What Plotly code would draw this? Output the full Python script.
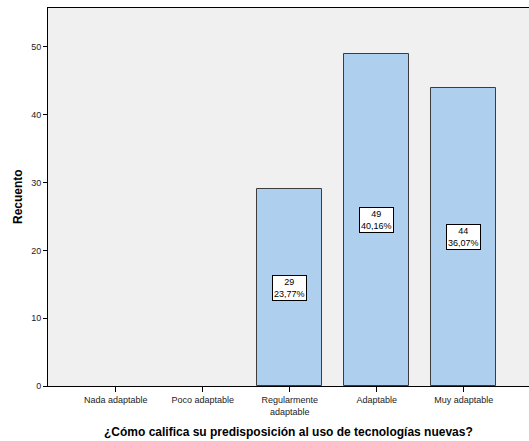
import plotly.graph_objects as go

categories = ["Nada adaptable", "Poco adaptable", "Regularmente<br>adaptable", "Adaptable", "Muy adaptable"]
counts = [0, 0, 29, 49, 44]
percents = ["0,00%", "0,00%", "23,77%", "40,16%", "36,07%"]

bar_y = [c if c > 0 else None for c in counts]

fig = go.Figure()
fig.add_trace(go.Bar(
    x=list(range(len(categories))), y=bar_y, width=0.75,
    marker=dict(color="#aed0ee", line=dict(color="#3c3c3c", width=1)),
    hoverinfo="skip",
))

for i, (c, p) in enumerate(zip(counts, percents)):
    if c > 0:
        fig.add_annotation(
            x=i, y=c / 2, text=f"{c}<br>{p}", showarrow=False,
            font=dict(family="Liberation Sans, Arial", size=9, color="black"),
            bgcolor="white", bordercolor="black", borderwidth=1, borderpad=1,
        )

fig.add_annotation(
    x=0.5, xref="paper", y=0, yref="paper", yshift=-46, yanchor="middle",
    text="<b>¿Cómo califica su predisposición al uso de tecnologías nuevas?</b>",
    showarrow=False, font=dict(size=12),
)
fig.add_annotation(
    x=0, xref="paper", xshift=-30, y=0.5, yref="paper",
    text="<b>Recuento</b>", textangle=-90, showarrow=False, font=dict(size=12),
    xanchor="center", yanchor="middle",
)

fig.update_layout(
    width=529, height=441,
    margin=dict(l=48, r=0, t=8, b=55, autoexpand=False),
    paper_bgcolor="white", plot_bgcolor="#f0f0f0",
    font=dict(family="Liberation Sans, Arial", size=9, color="black"),
    showlegend=False, bargap=0,
)
fig.update_xaxes(
    tickmode="array", tickvals=list(range(len(categories))), ticktext=categories,
    range=[-0.78, 4.75], showline=True, linecolor="black", linewidth=1, mirror=True,
    ticks="outside", ticklen=5, tickcolor="black", showgrid=False, zeroline=False,
    automargin=False, tickfont=dict(size=9, color="#222"),
)
fig.update_yaxes(
    range=[0, 55.75], tickvals=[0, 10, 20, 30, 40, 50],
    showline=True, linecolor="black", linewidth=1, mirror=True,
    ticks="outside", ticklen=4, tickcolor="black", showgrid=False, zeroline=False,
    automargin=False, tickfont=dict(size=9, color="#222"),
)

fig.write_html("out.html", config={"displayModeBar": False},
               post_script="document.body.style.margin='0';")
